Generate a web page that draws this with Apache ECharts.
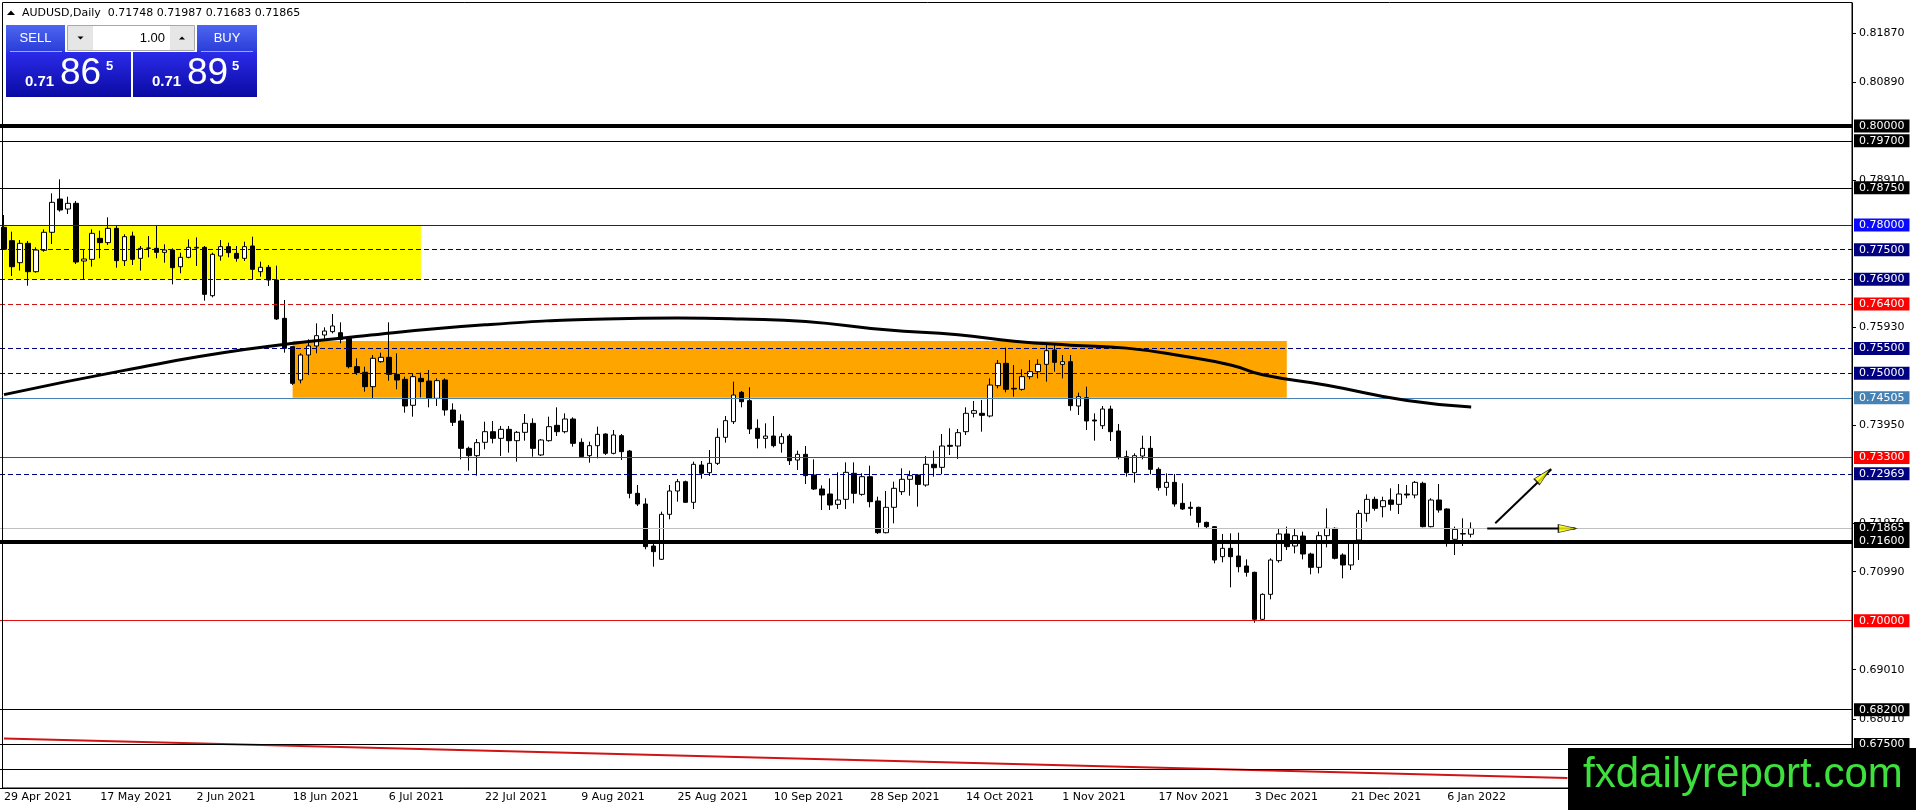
<!DOCTYPE html>
<html>
<head>
<meta charset="utf-8">
<title>AUDUSD Daily</title>
<script src="https://cdn.jsdelivr.net/npm/echarts@6.0.0/dist/echarts.min.js"></script>
<style>
  html, body { margin: 0; padding: 0; background: #fff; overflow: hidden; }
  #chart { width: 1916px; height: 810px; }
</style>
</head>
<body>
<div id="chart"></div>
<script>
const symbolName = "AUDUSD";
const periodName = "Daily";
const lastOhlc = [0.71748, 0.71987, 0.71683, 0.71865];
const bidPrice = "0.71865";
const askPrice = "0.71895";
const lotSize = "1.00";

// one label every 12 bars, as the terminal prints them
const xTickLabels = [
  "29 Apr 2021", "17 May 2021", "2 Jun 2021", "18 Jun 2021", "6 Jul 2021", "22 Jul 2021",
  "9 Aug 2021", "25 Aug 2021", "10 Sep 2021", "28 Sep 2021", "14 Oct 2021", "1 Nov 2021",
  "17 Nov 2021", "3 Dec 2021", "21 Dec 2021", "6 Jan 2022",
];
const yTickValues = [0.81870, 0.80890, 0.78910, 0.75930, 0.73950, 0.71970, 0.70990, 0.69010, 0.68010];

// [open, close, low, high]
const candles = [
  [0.77952,0.77507,0.77493,0.78201],[0.77682,0.77156,0.76968,0.77864],[0.77237,0.77628,0.77076,0.77696],
  [0.77628,0.77055,0.76772,0.77675],[0.77055,0.77493,0.77035,0.77547],[0.77487,0.77851,0.77460,0.77911],
  [0.77851,0.78457,0.77615,0.78639],[0.78524,0.78302,0.78268,0.78922],[0.78322,0.78437,0.78221,0.78571],
  [0.78437,0.77251,0.77210,0.78484],[0.77271,0.77311,0.76900,0.77493],[0.77305,0.77830,0.77156,0.77911],
  [0.77729,0.77642,0.77325,0.77884],[0.77642,0.77931,0.77594,0.78154],[0.77931,0.77278,0.77136,0.77999],
  [0.77278,0.77763,0.77170,0.77810],[0.77776,0.77305,0.77190,0.77864],[0.77325,0.77527,0.77076,0.77574],
  [0.77527,0.77534,0.77345,0.77776],[0.77527,0.77446,0.77325,0.77999],[0.77446,0.77493,0.77237,0.77608],
  [0.77493,0.77136,0.76799,0.77527],[0.77156,0.77345,0.77022,0.77440],[0.77345,0.77547,0.77325,0.77709],
  [0.77534,0.77547,0.77170,0.77749],[0.77547,0.76597,0.76469,0.77574],[0.76570,0.77406,0.76537,0.77440],
  [0.77372,0.77561,0.77278,0.77696],[0.77561,0.77440,0.77345,0.77642],[0.77426,0.77325,0.77258,0.77574],
  [0.77325,0.77561,0.77271,0.77662],[0.77574,0.77103,0.76900,0.77763],[0.77055,0.77143,0.76954,0.77258],
  [0.77143,0.76887,0.76766,0.77190],[0.76887,0.76099,0.76078,0.77177],[0.76112,0.75506,0.75418,0.76483],
  [0.75539,0.74798,0.74765,0.75553],[0.74866,0.75371,0.74798,0.75405],[0.75371,0.75553,0.74967,0.75688],
  [0.75553,0.75762,0.75405,0.76011],[0.75775,0.75856,0.75688,0.75930],[0.75843,0.75957,0.75809,0.76200],
  [0.75822,0.75688,0.75607,0.76031],[0.75708,0.75135,0.75101,0.75742],[0.75135,0.75014,0.74967,0.75304],
  [0.75021,0.74731,0.74630,0.75135],[0.74731,0.75304,0.74495,0.75371],[0.75236,0.75324,0.75216,0.75418],
  [0.75324,0.74980,0.74852,0.76031],[0.74980,0.74866,0.74677,0.75405],[0.74879,0.74340,0.74205,0.74933],
  [0.74354,0.74933,0.74124,0.75000],[0.74899,0.74832,0.74515,0.75014],[0.74845,0.74495,0.74313,0.75068],
  [0.74495,0.74852,0.74340,0.74899],[0.74866,0.74259,0.74145,0.74899],[0.74259,0.74010,0.73936,0.74394],
  [0.74037,0.73484,0.73262,0.74172],[0.73484,0.73336,0.73033,0.73518],[0.73336,0.73599,0.72932,0.73673],
  [0.73606,0.73821,0.73464,0.74023],[0.73821,0.73686,0.73585,0.74037],[0.73686,0.73868,0.73329,0.73936],
  [0.73868,0.73639,0.73397,0.73936],[0.73639,0.73808,0.73215,0.73835],[0.73808,0.73990,0.73639,0.74178],
  [0.73990,0.73484,0.73316,0.74091],[0.73350,0.73653,0.73329,0.73673],[0.73639,0.73922,0.73619,0.74124],
  [0.73949,0.73821,0.73734,0.74313],[0.73821,0.74077,0.73787,0.74192],[0.74077,0.73585,0.73518,0.74111],
  [0.73606,0.73316,0.73302,0.73686],[0.73336,0.73538,0.73195,0.73619],[0.73538,0.73767,0.73282,0.73922],
  [0.73774,0.73383,0.73350,0.73787],[0.73383,0.73754,0.73363,0.73855],[0.73740,0.73417,0.73248,0.73774],
  [0.73430,0.72575,0.72474,0.73451],[0.72575,0.72359,0.72319,0.72743],[0.72359,0.71497,0.71443,0.72474],
  [0.71510,0.71396,0.71092,0.71631],[0.71241,0.72150,0.71227,0.72204],[0.72150,0.72622,0.72049,0.72743],
  [0.72622,0.72810,0.72406,0.72864],[0.72810,0.72393,0.72386,0.72831],[0.72393,0.73161,0.72258,0.73215],
  [0.73147,0.72979,0.72871,0.73228],[0.72992,0.73181,0.72925,0.73451],[0.73181,0.73707,0.73147,0.73889],
  [0.73707,0.74044,0.73599,0.74138],[0.74023,0.74562,0.73976,0.74832],[0.74616,0.74427,0.74313,0.74643],
  [0.74448,0.73875,0.73774,0.74717],[0.73889,0.73686,0.73484,0.74070],[0.73686,0.73733,0.73484,0.73990],
  [0.73733,0.73538,0.73504,0.74138],[0.73585,0.73720,0.73397,0.73787],[0.73733,0.73235,0.73147,0.73774],
  [0.73248,0.73363,0.73046,0.73437],[0.73363,0.72932,0.72763,0.73531],[0.72945,0.72662,0.72642,0.73262],
  [0.72662,0.72541,0.72238,0.72736],[0.72561,0.72339,0.72238,0.72878],[0.72352,0.72440,0.72258,0.72999],
  [0.72453,0.72999,0.72258,0.73201],[0.72979,0.72575,0.72372,0.73201],[0.72554,0.72911,0.72527,0.72979],
  [0.72911,0.72406,0.72292,0.73134],[0.72420,0.71779,0.71753,0.72507],[0.71779,0.72292,0.71766,0.72622],
  [0.72292,0.72676,0.71968,0.72810],[0.72608,0.72858,0.72541,0.73080],[0.72858,0.72932,0.72527,0.73033],
  [0.72945,0.72756,0.72305,0.72959],[0.72743,0.73161,0.72709,0.73329],[0.73161,0.73093,0.72911,0.73437],
  [0.73100,0.73531,0.72959,0.73774],[0.73545,0.73525,0.73349,0.73889],[0.73531,0.73801,0.73269,0.73875],
  [0.73821,0.74192,0.73754,0.74313],[0.74192,0.74246,0.74111,0.74441],[0.74192,0.74151,0.73821,0.74461],
  [0.74138,0.74764,0.74111,0.74899],[0.74751,0.75202,0.74697,0.75270],[0.75202,0.74677,0.74616,0.75519],
  [0.74697,0.74684,0.74529,0.75169],[0.74677,0.74933,0.74650,0.75081],[0.74933,0.75034,0.74879,0.75270],
  [0.75034,0.75182,0.74899,0.75283],[0.75182,0.75458,0.74832,0.75607],[0.75472,0.75223,0.75034,0.75573],
  [0.75182,0.75236,0.74899,0.75371],[0.75236,0.74347,0.74246,0.75371],[0.74340,0.74529,0.74158,0.74610],
  [0.74508,0.74037,0.73855,0.74731],[0.74057,0.74037,0.73639,0.74192],[0.73942,0.74279,0.73875,0.74340],
  [0.74279,0.73821,0.73632,0.74347],[0.73835,0.73302,0.73262,0.73976],[0.73316,0.72992,0.72911,0.73437],
  [0.72992,0.73336,0.72790,0.73383],[0.73329,0.73484,0.73262,0.73740],[0.73484,0.73060,0.72959,0.73733],
  [0.73060,0.72689,0.72629,0.73100],[0.72696,0.72797,0.72527,0.72979],[0.72797,0.72359,0.72305,0.72965],
  [0.72372,0.72258,0.72238,0.72777],[0.72292,0.72271,0.72123,0.72406],[0.72292,0.71988,0.71887,0.72305],
  [0.71988,0.71901,0.71854,0.72002],[0.71901,0.71227,0.71160,0.71914],[0.71294,0.71463,0.71180,0.71753],
  [0.71463,0.71294,0.70674,0.71766],[0.71308,0.71092,0.70978,0.71779],[0.71106,0.70978,0.70890,0.71240],
  [0.70978,0.70028,0.69960,0.70991],[0.70028,0.70533,0.70014,0.70553],[0.70533,0.71227,0.70432,0.71261],
  [0.71214,0.71753,0.71173,0.71867],[0.71753,0.71497,0.71429,0.71901],[0.71510,0.71719,0.71362,0.71854],
  [0.71712,0.71348,0.71240,0.71800],[0.71348,0.71079,0.70937,0.71375],[0.71079,0.71719,0.70958,0.71800],
  [0.71719,0.71867,0.71483,0.72271],[0.71867,0.71261,0.71240,0.71887],[0.71328,0.71126,0.70856,0.71362],
  [0.71126,0.71584,0.71025,0.71598],[0.71631,0.72170,0.71227,0.72238],[0.72170,0.72453,0.72002,0.72554],
  [0.72453,0.72271,0.72224,0.72507],[0.72305,0.72426,0.72090,0.72507],[0.72440,0.72352,0.72224,0.72676],
  [0.72352,0.72561,0.72157,0.72763],[0.72561,0.72541,0.72474,0.72743],[0.72541,0.72797,0.72474,0.72824],
  [0.72777,0.71901,0.71887,0.72810],[0.71901,0.72440,0.71887,0.72474],[0.72440,0.72238,0.72184,0.72763],
  [0.72258,0.71631,0.71496,0.72271],[0.71645,0.71847,0.71328,0.71901],[0.71760,0.71753,0.71510,0.72069],
  [0.71748,0.71865,0.71683,0.71987],
];

// moving average, read at a few bars and drawn smooth
const maPoints = [
  [0, 0.7457], [15, 0.7506], [30, 0.7548], [45, 0.7576], [60, 0.7598], [75, 0.7610],
  [84, 0.7612], [92, 0.7610], [100, 0.7605], [110, 0.7588], [119, 0.7578], [126, 0.7565],
  [133, 0.7557], [140, 0.7551], [147, 0.7535], [153, 0.7517], [157, 0.7497], [165, 0.7476],
  [175, 0.7445], [183, 0.7432],
];
const trendPoints = [[0, 0.6762], [195, 0.6682]];
const upArrow = [[186, 0.7197], [193, 0.7306]];
const flatArrow = [[185, 0.71865], [196, 0.71865]];
const upArrowHead = [192, 0.72935];
const flatArrowHead = [195, 0.71865];

// [first bar, last bar, top, bottom]
const yellowZone = [0, 52, 0.78000, 0.76900];
const orangeZone = [36, 160, 0.75654, 0.74505];

const thickLevels = [0.80000, 0.71600];
const blackLevels = [0.79700, 0.78750, 0.68200, 0.67500, 0.67000];
const blueLevels = [0.78000];
const navyDashLevels = [0.77500, 0.76900, 0.75500, 0.75000, 0.72969];
const redDashLevels = [0.76400];
const redLevels = [0.73300, 0.70000];
const steelLevels = [0.74505];
const bidLevels = [0.71865];

const SLOTS = 231;
const FONT = '"DejaVu Sans", sans-serif';
const PANEL_FONT = '"Liberation Sans", Arial, sans-serif';

const LEVEL_STYLES = [
  { levels: thickLevels, color: "#000000", width: 4, type: "solid", tag: "#000000" },
  { levels: blackLevels, color: "#000000", width: 1, type: "solid", tag: "#000000" },
  { levels: blueLevels, color: "#1414cc", width: 1, type: "solid", tag: "#0a0aff" },
  { levels: navyDashLevels, color: "#00007a", width: 1, type: [5, 3], tag: "#000080" },
  { levels: redDashLevels, color: "#d01010", width: 1, type: [5, 3], tag: "#ff0000" },
  { levels: redLevels, color: "#e01010", width: 1, type: "solid", tag: "#ff0000" },
  { levels: steelLevels, color: "#4682b4", width: 1, type: "solid", tag: "#4682b4" },
  { levels: bidLevels, color: "#c0c0c0", width: 1, type: "solid", tag: "#000000" },
];

function levelLines() {
  const out = [];
  LEVEL_STYLES.forEach((s) => {
    s.levels.forEach((v) => {
      out.push({
        name: v.toFixed(5),
        yAxis: v,
        lineStyle: { color: s.color, width: s.width, type: s.type },
        label: { backgroundColor: s.tag },
      });
    });
  });
  return out;
}

function zoneArea(zone, color) {
  return [
    { xAxis: zone[0], yAxis: zone[2], itemStyle: { color: color } },
    { xAxis: zone[1], yAxis: zone[3] },
  ];
}

function splitPrice(str) {
  return { big: str.slice(0, 4), pips: str.slice(4, 6), point: str.slice(6) };
}

function buildPanel() {
  const bid = splitPrice(bidPrice);
  const ask = splitPrice(askPrice);
  const btnFill = new echarts.graphic.LinearGradient(0, 0, 0, 1, [
    { offset: 0, color: "#4d66f0" }, { offset: 1, color: "#2a3cd8" },
  ]);
  const boxFill = new echarts.graphic.LinearGradient(0, 0, 0, 1, [
    { offset: 0, color: "#2b2bea" }, { offset: 1, color: "#0a0aa2" },
  ]);
  const title = symbolName + "," + periodName + "  " + lastOhlc.map((v) => v.toFixed(5)).join(" ");
  const white = "#ffffff";
  const els = [
    { type: "polygon", shape: { points: [[7, 15], [15, 15], [11, 10.5]] }, style: { fill: "#000" } },
    { type: "text", x: 22, y: 13, style: { text: title, font: "11px " + FONT, fill: "#000", verticalAlign: "middle" } },

    { type: "rect", shape: { x: 6, y: 25, width: 59, height: 27 }, style: { fill: btnFill } },
    { type: "rect", shape: { x: 197, y: 25, width: 60, height: 27 }, style: { fill: btnFill } },
    { type: "line", shape: { x1: 10, y1: 51.5, x2: 62, y2: 51.5 }, style: { stroke: "#9aa8f4", lineWidth: 1 } },
    { type: "line", shape: { x1: 201, y1: 51.5, x2: 253, y2: 51.5 }, style: { stroke: "#9aa8f4", lineWidth: 1 } },
    { type: "text", x: 35.5, y: 38.5, style: { text: "SELL", font: "13px " + PANEL_FONT, fill: white, align: "center", verticalAlign: "middle" } },
    { type: "text", x: 227, y: 38.5, style: { text: "BUY", font: "13px " + PANEL_FONT, fill: white, align: "center", verticalAlign: "middle" } },

    { type: "rect", shape: { x: 67.5, y: 25.5, width: 127, height: 25 }, style: { fill: "#fff", stroke: "#a8a8a8", lineWidth: 1 } },
    { type: "rect", shape: { x: 68, y: 26, width: 25, height: 24 }, style: { fill: "#e6e6e6" } },
    { type: "rect", shape: { x: 170, y: 26, width: 24, height: 24 }, style: { fill: "#e6e6e6" } },
    { type: "polygon", shape: { points: [[77.5, 36.5], [83.5, 36.5], [80.5, 39.5]] }, style: { fill: "#000" } },
    { type: "polygon", shape: { points: [[179, 39.5], [185, 39.5], [182, 36.5]] }, style: { fill: "#000" } },
    { type: "text", x: 165, y: 38, style: { text: lotSize, font: "13px " + PANEL_FONT, fill: "#000", align: "right", verticalAlign: "middle" } },

    { type: "rect", shape: { x: 6, y: 52, width: 125, height: 45 }, style: { fill: boxFill } },
    { type: "rect", shape: { x: 133, y: 52, width: 124, height: 45 }, style: { fill: boxFill } },
    { type: "text", x: 25, y: 82, style: { text: bid.big, font: "bold 15px " + PANEL_FONT, fill: white, verticalAlign: "middle" } },
    { type: "text", x: 60, y: 74, style: { text: bid.pips, font: "37px " + PANEL_FONT, fill: white, verticalAlign: "middle" } },
    { type: "text", x: 106, y: 66, style: { text: bid.point, font: "bold 13px " + PANEL_FONT, fill: white, verticalAlign: "middle" } },
    { type: "text", x: 152, y: 82, style: { text: ask.big, font: "bold 15px " + PANEL_FONT, fill: white, verticalAlign: "middle" } },
    { type: "text", x: 187, y: 74, style: { text: ask.pips, font: "37px " + PANEL_FONT, fill: white, verticalAlign: "middle" } },
    { type: "text", x: 232, y: 66, style: { text: ask.point, font: "bold 13px " + PANEL_FONT, fill: white, verticalAlign: "middle" } },

    // chart frame
    { type: "rect", shape: { x: 2.5, y: 2.5, width: 1849.5, height: 785.5 }, style: { fill: "none", stroke: "#000", lineWidth: 1 } },

    // watermark
    { type: "rect", shape: { x: 1568, y: 748, width: 348, height: 62 }, style: { fill: "#000" }, z: 200 },
    { type: "text", x: 1583, y: 775, z: 201, style: { text: "fxdailyreport.com", font: "42px " + PANEL_FONT, fill: "#3ee03e", verticalAlign: "middle" } },
  ];
  return els.map((e) => Object.assign({ silent: true, z: 100 }, e));
}

const categories = Array.from({ length: SLOTS }, (_, i) => String(i));
const showXTick = (i) => i % 12 === 0 && i / 12 < xTickLabels.length;

const chart = echarts.init(document.getElementById("chart"));
chart.setOption({
  animation: false,
  backgroundColor: "#ffffff",
  grid: { left: 0, right: 64, top: 3, bottom: 22 },
  xAxis: {
    type: "category",
    data: categories,
    boundaryGap: true,
    axisLine: { lineStyle: { color: "#000", width: 1 } },
    axisTick: { interval: showXTick, alignWithLabel: true, length: 5, lineStyle: { color: "#000" } },
    axisLabel: {
      interval: showXTick,
      formatter: (v, i) => xTickLabels[i / 12] || "",
      align: "left",
      margin: 4,
      color: "#000",
      fontSize: 11,
      fontFamily: FONT,
    },
    splitLine: { show: false },
  },
  yAxis: {
    type: "value",
    position: "right",
    min: 0.666182,
    max: 0.824863,
    axisLine: { show: true, lineStyle: { color: "#000", width: 1 } },
    axisTick: { show: true, customValues: yTickValues, length: 4, lineStyle: { color: "#000" } },
    axisLabel: {
      customValues: yTickValues,
      formatter: (v) => v.toFixed(5),
      margin: 7,
      color: "#000",
      fontSize: 11,
      fontFamily: FONT,
    },
    splitLine: { show: false },
  },
  series: [
    {
      type: "candlestick",
      data: candles,
      barWidth: 5,
      z: 3,
      itemStyle: { color: "#ffffff", color0: "#000000", borderColor: "#000000", borderColor0: "#000000", borderWidth: 1 },
      markArea: {
        silent: true,
        z: 1,
        data: [zoneArea(yellowZone, "#ffff00"), zoneArea(orangeZone, "#ffa500")],
      },
    },
    {
      type: "line",
      data: trendPoints,
      showSymbol: false,
      z: 4,
      lineStyle: { color: "#d01414", width: 2 },
      markLine: {
        silent: true,
        symbol: "none",
        precision: 5,
        z: 5,
        label: {
          show: true,
          position: "end",
          distance: 2,
          formatter: "{b}",
          color: "#ffffff",
          fontSize: 11,
          fontFamily: FONT,
          lineHeight: 12,
          padding: [1, 5, 0, 5],
        },
        data: levelLines(),
      },
    },
    {
      type: "line",
      data: maPoints,
      smooth: true,
      showSymbol: false,
      z: 6,
      lineStyle: { color: "#000000", width: 3 },
    },
    { type: "line", data: upArrow, showSymbol: false, z: 7, lineStyle: { color: "#000", width: 2 } },
    { type: "line", data: flatArrow, showSymbol: false, z: 7, lineStyle: { color: "#000", width: 2 } },
    {
      type: "scatter",
      z: 8,
      symbol: "triangle",
      symbolSize: [8, 18],
      itemStyle: { color: "#ffff00", borderColor: "#000", borderWidth: 1 },
      data: [
        { value: upArrowHead, symbolRotate: -46 },
        { value: flatArrowHead, symbolRotate: -90 },
      ],
    },
  ],
  graphic: buildPanel(),
});
</script>
</body>
</html>
